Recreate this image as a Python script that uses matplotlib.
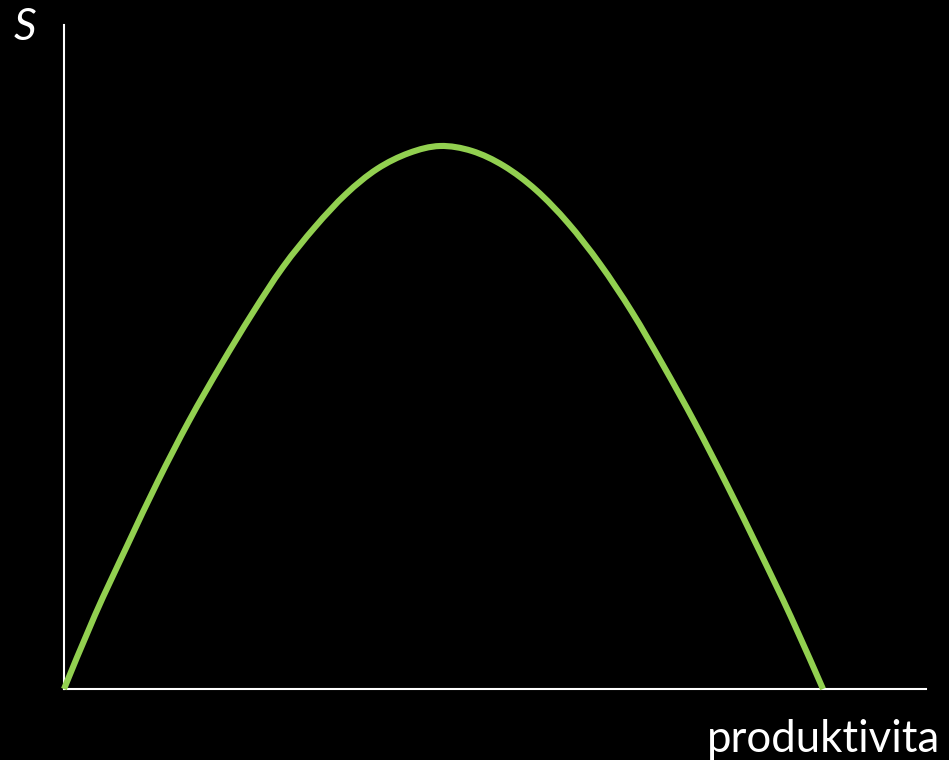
import matplotlib
matplotlib.use("Agg")
import matplotlib.pyplot as plt
from matplotlib.path import Path
from matplotlib.patches import PathPatch

# Curve points (arbitrary units, x: productivity, y: S)
x_vals = [0, 31, 63, 94, 125, 157, 188, 219, 251, 282, 313, 345, 376,
          408, 440, 472, 504, 536, 568, 599, 631, 663, 695, 727, 759]
s_vals = [0, 74, 143, 208, 268, 324, 375, 422, 462, 495, 520, 536, 543,
          538, 523, 499, 466, 425, 377, 324, 266, 204, 139, 72, 0]

x_label = "produktivita"
y_label = "S"

W, H = 949, 760
fig = plt.figure(figsize=(W / 100, H / 100), dpi=100, facecolor="black")
ax = fig.add_axes([64 / W, (H - 689) / H, (926 - 64) / W, (689 - 25) / H])
ax.set_facecolor("black")
ax.set_xlim(0, 862)
ax.set_ylim(0, 664)

# Smooth rendering through the read points (Catmull-Rom as cubic Bezier path)
pts = list(zip(x_vals, s_vals))
verts = [pts[0]]
codes = [Path.MOVETO]
n = len(pts)
for i in range(n - 1):
    p0 = pts[i - 1] if i > 0 else pts[i]
    p1 = pts[i]
    p2 = pts[i + 1]
    p3 = pts[i + 2] if i + 2 < n else pts[i + 1]
    c1 = (p1[0] + (p2[0] - p0[0]) / 6, p1[1] + (p2[1] - p0[1]) / 6)
    c2 = (p2[0] - (p3[0] - p1[0]) / 6, p2[1] - (p3[1] - p1[1]) / 6)
    verts += [c1, c2, p2]
    codes += [Path.CURVE4, Path.CURVE4, Path.CURVE4]
patch = PathPatch(Path(verts, codes), facecolor="none", edgecolor="#92D050",
                  lw=4.4, capstyle="butt", joinstyle="round", clip_on=False, zorder=3)
ax.add_patch(patch)

for side in ["top", "right"]:
    ax.spines[side].set_visible(False)
for side in ["left", "bottom"]:
    ax.spines[side].set_color("white")
    ax.spines[side].set_linewidth(1.5)
ax.set_xticks([])
ax.set_yticks([])

fig.text(940 / W, 1 - 752 / H, x_label, color="white", fontsize=31.5,
         family=["Lato", "DejaVu Sans"], ha="right", va="baseline")
fig.text(14 / W, 1 - 40 / H, y_label, color="white", fontsize=32,
         family=["Lato", "DejaVu Sans"], style="italic", ha="left", va="baseline")

fig.savefig("out.png", dpi=100, facecolor="black")
